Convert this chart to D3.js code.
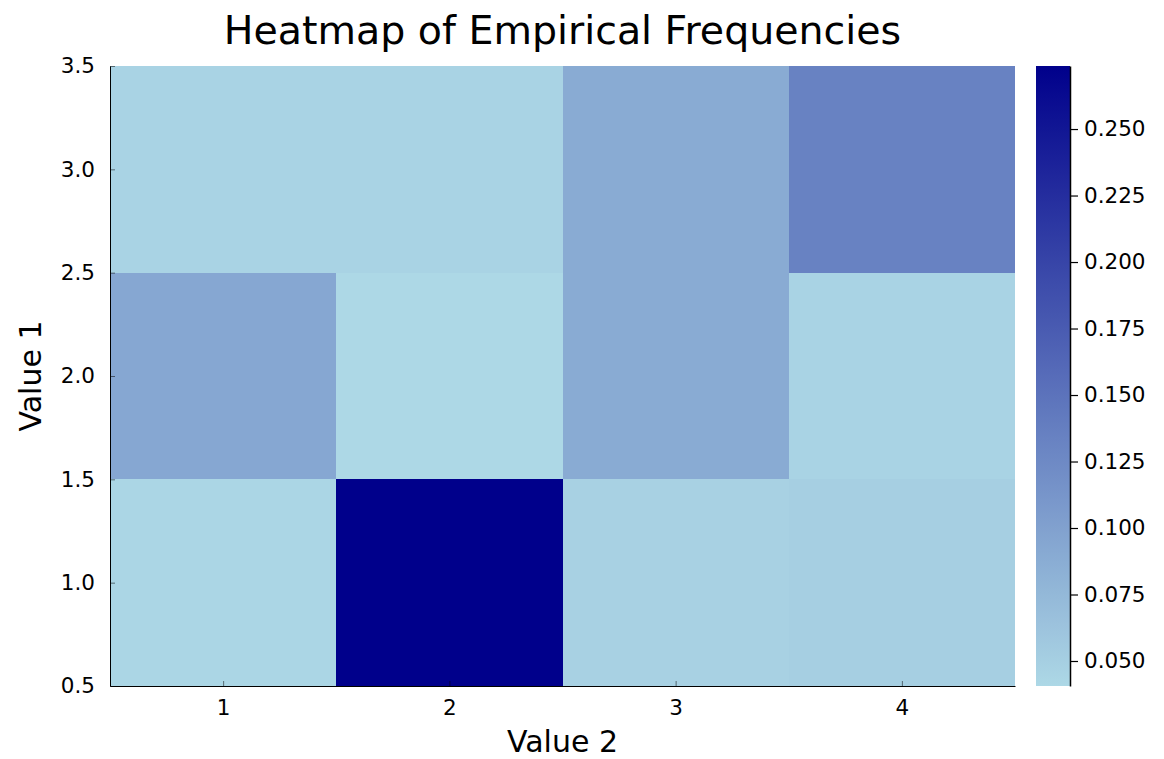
<!DOCTYPE html>
<html>
<head>
<meta charset="utf-8">
<script src="https://cdn.jsdelivr.net/npm/d3@7"></script>
<style>
  html, body { margin: 0; padding: 0; background: #fff; }
  svg { display: block; font-family: "DejaVu Sans", sans-serif; }
</style>
</head>
<body>
<svg id="chart" width="1164" height="759"></svg>
<script>
// Category axes
const value2 = [1, 2, 3, 4];
const value1 = [1, 2, 3];

// Empirical frequencies, one row per Value 1 level (1, 2, 3), columns are Value 2 = 1..4
const row1 = [0.0430, 0.2737, 0.0480, 0.0500];
const row2 = [0.0930, 0.0406, 0.0890, 0.0460];
const row3 = [0.0460, 0.0460, 0.0890, 0.1330];

const yTicks = [0.5, 1.0, 1.5, 2.0, 2.5, 3.0, 3.5];
const cbTicks = [0.050, 0.075, 0.100, 0.125, 0.150, 0.175, 0.200, 0.225, 0.250];

const rows = [row1, row2, row3];
const cells = [];
rows.forEach((r, i) => r.forEach((v, j) => cells.push({ y: value1[i], x: value2[j], v })));

const svg = d3.select("#chart");
const plot = { left: 110, right: 1015, top: 66, bottom: 686 };
const cb = { left: 1036, right: 1070 };
const tickFont = 21.5;

const x = d3.scaleLinear().domain([0.5, 4.5]).range([plot.left, plot.right]);
const y = d3.scaleLinear().domain([0.5, 3.5]).range([plot.bottom, plot.top]);

const allVals = cells.map(d => d.v);
const vmin = d3.min(allVals), vmax = d3.max(allVals);
const color = d3.scaleSequential(d3.interpolateRgb("#add8e6", "#00008b")).domain([vmin, vmax]);

// Heatmap cells
svg.append("g").selectAll("rect").data(cells).join("rect")
  .attr("x", d => x(d.x - 0.5))
  .attr("y", d => y(d.y + 0.5))
  .attr("width", d => x(d.x + 0.5) - x(d.x - 0.5))
  .attr("height", d => y(d.y - 0.5) - y(d.y + 0.5))
  .attr("fill", d => color(d.v))
  .attr("shape-rendering", "crispEdges");

// Axes
const xAxis = d3.axisBottom(x).tickValues(value2).tickFormat(d3.format("d")).tickSizeInner(-5).tickSizeOuter(0).tickPadding(14);
const gx = svg.append("g").attr("transform", `translate(0,${plot.bottom})`).call(xAxis);
gx.select(".domain").attr("stroke", "#000").attr("stroke-width", 1);
gx.selectAll(".tick line").attr("stroke", "#000").attr("stroke-opacity", 0.5);
gx.selectAll("text").attr("font-size", tickFont).attr("fill", "#000").attr("font-family", "DejaVu Sans");

const yAxis = d3.axisLeft(y).tickValues(yTicks).tickFormat(d3.format(".1f")).tickSizeInner(-5).tickSizeOuter(0).tickPadding(15);
const gy = svg.append("g").attr("transform", `translate(${plot.left},0)`).call(yAxis);
gy.select(".domain").attr("stroke", "#000").attr("stroke-width", 1);
gy.selectAll(".tick line").attr("stroke", "#000").attr("stroke-opacity", 0.5);
gy.selectAll("text").attr("font-size", tickFont).attr("fill", "#000").attr("font-family", "DejaVu Sans");

// Colorbar
const defs = svg.append("defs");
const grad = defs.append("linearGradient").attr("id", "cbgrad")
  .attr("x1", 0).attr("y1", 1).attr("x2", 0).attr("y2", 0);
d3.range(0, 1.0001, 0.05).forEach(t => {
  grad.append("stop").attr("offset", t).attr("stop-color", color(vmin + t * (vmax - vmin)));
});
const cy = d3.scaleLinear().domain([vmin, vmax]).range([plot.bottom, plot.top]);
svg.append("rect")
  .attr("x", cb.left).attr("y", plot.top)
  .attr("width", cb.right - cb.left).attr("height", plot.bottom - plot.top)
  .attr("fill", "url(#cbgrad)");
const cbAxis = d3.axisRight(cy).tickValues(cbTicks).tickFormat(d3.format(".3f")).tickSizeInner(8).tickSizeOuter(0).tickPadding(6);
const gc = svg.append("g").attr("transform", `translate(${cb.right},0)`).call(cbAxis);
gc.select(".domain").attr("stroke", "#000").attr("stroke-width", 1.5);
gc.selectAll(".tick line").attr("stroke", "#000").attr("stroke-width", 1.2);
gc.selectAll("text").attr("font-size", tickFont).attr("fill", "#000").attr("font-family", "DejaVu Sans");

// Titles
svg.append("text").attr("x", (plot.left + plot.right) / 2).attr("y", 44)
  .attr("text-anchor", "middle").attr("font-size", 39.5).text("Heatmap of Empirical Frequencies");
svg.append("text").attr("x", (plot.left + plot.right) / 2).attr("y", 752)
  .attr("text-anchor", "middle").attr("font-size", 30).text("Value 2");
svg.append("text").attr("transform", `translate(41,${(plot.top + plot.bottom) / 2}) rotate(-90)`)
  .attr("text-anchor", "middle").attr("font-size", 30).text("Value 1");
</script>
</body>
</html>
